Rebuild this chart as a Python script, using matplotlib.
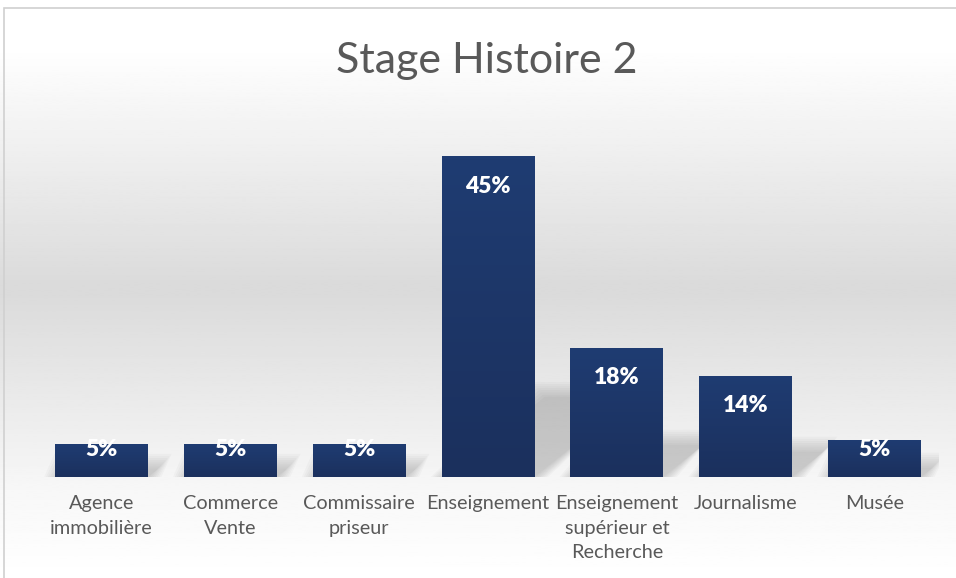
import numpy as np
import matplotlib.pyplot as plt
from matplotlib.colors import LinearSegmentedColormap
from matplotlib.patches import Polygon, Rectangle

# Data
categories = ['Agence\nimmobilière', 'Commerce\nVente', 'Commissaire\npriseur',
              'Enseignement', 'Enseignement\nsupérieur et\nRecherche',
              'Journalisme', 'Musée']
values = [4.6, 4.6, 4.6, 45.0, 18.1, 14.2, 5.2]
value_labels = ['5%', '5%', '5%', '45%', '18%', '14%', '5%']

plt.rcParams['font.family'] = ['Lato', 'DejaVu Sans']

fig = plt.figure(figsize=(9.56, 5.78), dpi=100)

# Background gradient (white -> light gray -> white)
bg = fig.add_axes([0, 0, 1, 1], zorder=-10)
t = np.linspace(0, 1, 300)
shade = np.interp(t, [0, 0.08, 0.5, 0.85, 1], [1.0, 1.0, 0.855, 0.97, 1.0])
bg.imshow(shade[:, None], cmap='gray', vmin=0, vmax=1, aspect='auto',
          extent=[0, 1, 0, 1], origin='upper')
bg.set_xlim(0, 1)
bg.set_ylim(0, 1)
bg.axis('off')
bg.add_patch(Rectangle((4 / 956, -0.1), 1.2, 1 - 8 / 578 + 0.1, fill=False,
                       edgecolor='#d0d0d0', linewidth=1.2))

ax = fig.add_axes([0.0387, 0.1747, 0.9435, 0.6168])
ax.patch.set_alpha(0)
x = np.arange(len(categories))
width = 0.72

# Soft perspective shadows behind the bars
for xi, v in zip(x, values):
    for k in range(8):
        grow = k * 0.015
        dx = 0.78 * v / 45
        sh = Polygon([(xi - width / 2 + 0.02 - grow, 0),
                      (xi + width / 2 + grow, 0),
                      (xi + width / 2 + dx + grow, v * 0.25 + k * 0.3),
                      (xi - width / 2 + dx + 0.02 - grow, v * 0.25 + k * 0.3)],
                     closed=True, facecolor='#505050', edgecolor='none',
                     alpha=0.035, zorder=1)
        ax.add_patch(sh)

bars = ax.bar(x, values, width=width, color='#1c3564', zorder=2)

# Subtle vertical gradient inside the bars
bar_cmap = LinearSegmentedColormap.from_list('navy', ['#1b305d', '#1f3c72'])
grad = np.linspace(0, 1, 100)[:, None]
for b in bars:
    im = ax.imshow(grad, cmap=bar_cmap, aspect='auto', origin='lower',
                   extent=[b.get_x(), b.get_x() + b.get_width(), 0, b.get_height()],
                   zorder=3)
    im.set_clip_path(b)

ax.set_xlim(-0.5, len(categories) - 0.5)
ax.set_ylim(0, 50)

for xi, v, lab in zip(x, values, value_labels):
    ax.text(xi, max(v - 4.2, 3.8), lab, ha='center', va='center', color='white',
            fontsize=16.5, fontweight='heavy', zorder=4)

ax.set_xticks(x)
ax.set_xticklabels(categories, fontsize=14.3, color='#595959', linespacing=1.55,
                   va='top')
ax.tick_params(axis='x', length=0, pad=13)
ax.set_yticks([])
for s in ax.spines.values():
    s.set_visible(False)

fig.text(0.509, 0.895, 'Stage Histoire 2', ha='center', va='center',
         fontsize=31, color='#595959', fontweight='normal')

fig.savefig('out.png', dpi=100)
